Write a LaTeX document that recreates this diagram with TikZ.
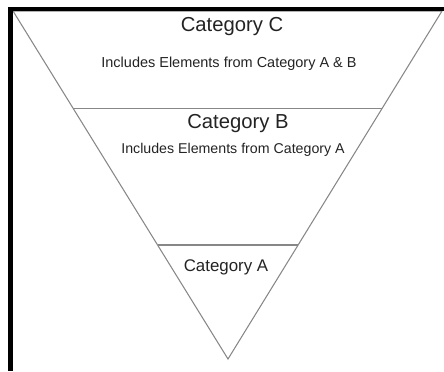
\documentclass[tikz,border=0pt]{standalone}
\usepackage{fontspec}
\setmainfont{Liberation Sans}
\usepackage{tikz}
\usetikzlibrary{calc, positioning}
\usepackage{xcolor}
\definecolor{edgeGray}{RGB}{135, 135, 135}
\definecolor{labelInk}{RGB}{35, 35, 35}

\begin{document}
\begin{tikzpicture}[
        x=0.025cm, y=-0.025cm,
        frame/.style={draw=black, line width=2.9pt},
        tier/.style={draw=edgeGray, line width=0.75pt, line join=miter},
        catlabel/.style={anchor=base, inner sep=0pt, text=labelInk, font=\fontsize{14.4}{16}\selectfont},
        note/.style={anchor=base, inner sep=0pt, text=labelInk, font=\fontsize{10.3}{12}\selectfont}
    ]
        \useasboundingbox (0,0) rectangle (444,371);

        % triangle corners
        \coordinate (tl) at (13,11);
        \coordinate (tr) at (442,11);
        \coordinate (apex) at (228,359);

        % dividing lines
        \coordinate (bl) at ($(tl)!0.2788!(apex)$);
        \coordinate (br) at ($(tr)!0.2788!(apex)$);
        \coordinate (al) at ($(tl)!0.6724!(apex)$);
        \coordinate (ar) at ($(tr)!0.6724!(apex)$);

        \draw[tier] (tl) -- (tr) -- (apex) -- cycle;
        \draw[tier] (bl) -- (br);
        \draw[tier] (al) -- (ar);

        % frame (top and left only)
        \coordinate (fcorner) at (10.5,9);
        \draw[frame] (444,9) -- (fcorner) -- (10.5,371);

        \node[catlabel] (catC) at (232,31) {Category C};
        \node[note] (noteC) at (229,67) {Includes Elements from Category A \& B};
        \node[catlabel] (catB) at (238,128) {Category B};
        \node[note, font=\fontsize{10.1}{12}\selectfont] (noteB) at (233,153) {Includes Elements from Category A};
        \node[catlabel, font=\fontsize{12}{14}\selectfont] (catA) at (226,271) {Category A};
    \end{tikzpicture}
\end{document}
